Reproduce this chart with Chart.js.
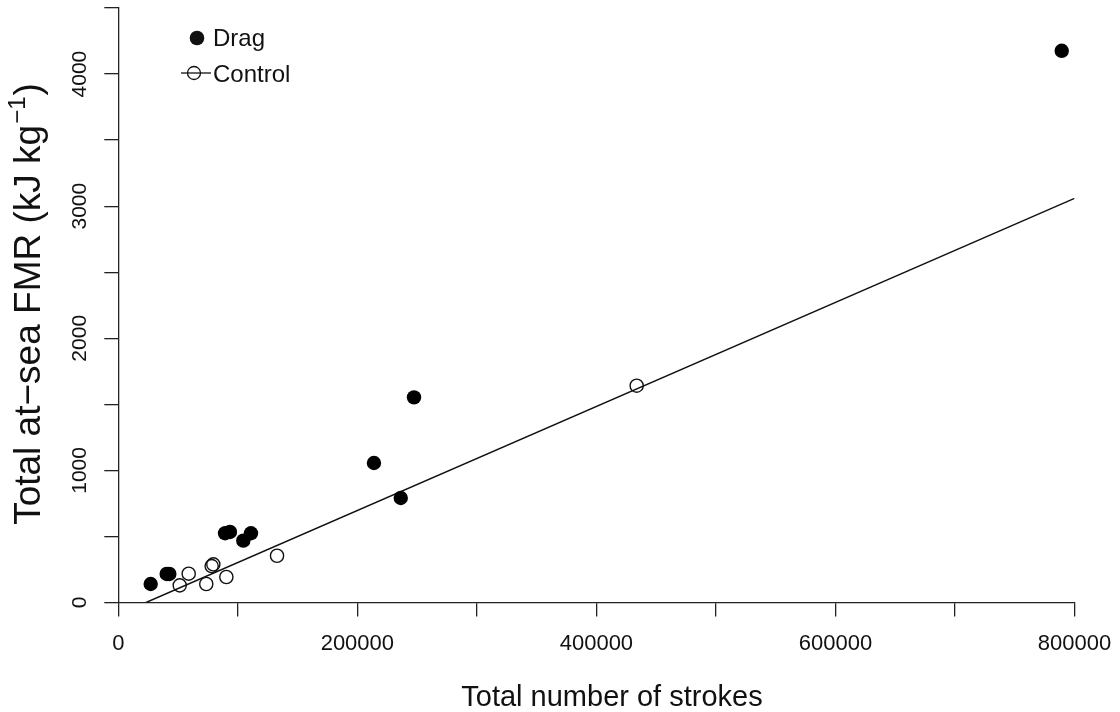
<!DOCTYPE html>
<html>
<head>
<meta charset="utf-8">
<title>At-sea FMR vs total strokes</title>
<script src="https://cdn.jsdelivr.net/npm/chart.js@4.4.1/dist/chart.umd.min.js"></script>
<style>
  html, body { margin: 0; padding: 0; background: #ffffff; }
  canvas { display: block; }
</style>
</head>
<body>
<canvas id="chart" width="1120" height="712"></canvas>
<script>
// Drag-treated birds: total strokes and total at-sea FMR (kJ/kg)
const dragStrokes = [789300, 247400, 213900, 236300, 27100, 40500, 42700, 89300, 93400, 104600, 111000];
const dragFMR     = [4176,   1553,   1056,   791,    140,   216,   216,   524,   534,   468,    524];

// Control birds
const controlStrokes = [51400, 58900, 73600, 78100, 79500, 90400, 132800, 433700];
const controlFMR     = [130,   218,   140,   276,   289,   193,   354,    1641];

// Fitted regression line (end points)
const fitStrokes = [23200, 800000];
const fitFMR     = [0,     3059];

// Axis ticks and their labels
const xTickValues = [0, 100000, 200000, 300000, 400000, 500000, 600000, 700000, 800000];
const xTickLabels = ['0', '', '200000', '', '400000', '', '600000', '', '800000'];
const yTickValues = [0, 500, 1000, 1500, 2000, 2500, 3000, 3500, 4000, 4500];
const yTickLabels = ['0', '', '1000', '', '2000', '', '3000', '', '4000', ''];

const legendNames = ['Drag', 'Control'];
const xTitle = 'Total number of strokes';
const yTitleMain = 'Total at\u2212sea FMR (kJ kg';
const yTitleSup = '\u22121';
const yTitleEnd = ')';

const FONT = '"Liberation Sans", Arial, Helvetica, sans-serif';
const INK = '#111111';
const AXIS = '#222222';

const toPoints = (xs, ys) => xs.map((x, i) => ({ x: x, y: ys[i] }));

// Text that is laid out by hand: rotated y labels, axis titles and legend
const annotations = {
  id: 'annotations',
  afterDraw(chart) {
    const ctx = chart.ctx;
    const ys = chart.scales.y;
    ctx.save();
    ctx.fillStyle = INK;

    // y tick labels, rotated to read bottom-to-top
    ctx.font = '21px ' + FONT;
    ctx.textAlign = 'center';
    ctx.textBaseline = 'alphabetic';
    yTickValues.forEach((v, i) => {
      const label = yTickLabels[i];
      if (!label) return;
      const py = ys.getPixelForValue(v);
      ctx.save();
      ctx.translate(86, py);
      ctx.rotate(-Math.PI / 2);
      ctx.fillText(label, 0, 0);
      ctx.restore();
    });

    // y axis title with superscript exponent
    ctx.save();
    ctx.translate(40, 304);
    ctx.rotate(-Math.PI / 2);
    ctx.textAlign = 'left';
    const bigFont = '37px ' + FONT;
    const supFont = '24px ' + FONT;
    ctx.font = bigFont;
    const w1 = ctx.measureText(yTitleMain).width;
    const w3 = ctx.measureText(yTitleEnd).width;
    ctx.font = supFont;
    const w2 = ctx.measureText(yTitleSup).width;
    let cx = -(w1 + w2 + w3 + 2) / 2;
    ctx.font = bigFont;
    ctx.fillText(yTitleMain, cx, 0);
    cx += w1 + 1;
    ctx.font = supFont;
    ctx.fillText(yTitleSup, cx, -15);
    cx += w2 + 1;
    ctx.font = bigFont;
    ctx.fillText(yTitleEnd, cx, 0);
    ctx.restore();

    // x axis title
    ctx.font = '29px ' + FONT;
    ctx.textAlign = 'center';
    ctx.textBaseline = 'alphabetic';
    ctx.fillText(xTitle, 612, 706);

    // legend
    ctx.font = '24px ' + FONT;
    ctx.textAlign = 'left';
    ctx.beginPath();
    ctx.arc(197, 38, 7.3, 0, Math.PI * 2);
    ctx.fill();
    ctx.fillText(legendNames[0], 213, 46);

    ctx.strokeStyle = INK;
    ctx.lineWidth = 1.3;
    ctx.beginPath();
    ctx.moveTo(181, 73);
    ctx.lineTo(211, 73);
    ctx.stroke();
    ctx.beginPath();
    ctx.arc(194, 73, 6.5, 0, Math.PI * 2);
    ctx.stroke();
    ctx.fillText(legendNames[1], 213, 82);
    ctx.restore();
  }
};

const ctx = document.getElementById('chart').getContext('2d');
new Chart(ctx, {
  type: 'scatter',
  data: {
    datasets: [
      {
        label: 'Fit',
        type: 'line',
        data: toPoints(fitStrokes, fitFMR),
        borderColor: INK,
        borderWidth: 1.5,
        pointRadius: 0,
        fill: false,
        tension: 0,
        order: 3
      },
      {
        label: legendNames[1],
        data: toPoints(controlStrokes, controlFMR),
        pointRadius: 6.6,
        pointBorderWidth: 1.4,
        pointBorderColor: INK,
        pointBackgroundColor: 'rgba(0,0,0,0)',
        clip: false,
        order: 2
      },
      {
        label: legendNames[0],
        data: toPoints(dragStrokes, dragFMR),
        pointRadius: 7.2,
        pointBorderWidth: 0,
        pointBackgroundColor: '#000000',
        clip: false,
        order: 1
      }
    ]
  },
  options: {
    responsive: false,
    animation: false,
    devicePixelRatio: 1,
    layout: { padding: { top: 8, right: 45.5, left: 0, bottom: 0 } },
    plugins: { legend: { display: false }, tooltip: { enabled: false } },
    scales: {
      x: {
        type: 'linear',
        position: 'bottom',
        min: 0,
        max: 800000,
        afterBuildTicks(scale) { scale.ticks = xTickValues.map(v => ({ value: v })); },
        afterFit(scale) {
          scale.height = 712 - 602.5;
          scale.paddingLeft = 0;
          scale.paddingRight = 0;
        },
        ticks: {
          autoSkip: false,
          maxRotation: 0,
          minRotation: 0,
          padding: 14,
          color: INK,
          font: { family: FONT, size: 22 },
          callback(value, index) { return xTickLabels[index]; }
        },
        grid: { drawOnChartArea: false, drawTicks: true, tickLength: 14, color: AXIS, lineWidth: 1.3 },
        border: { display: true, color: AXIS, width: 1.3 }
      },
      y: {
        type: 'linear',
        min: 0,
        max: 4500,
        afterBuildTicks(scale) { scale.ticks = yTickValues.map(v => ({ value: v })); },
        afterFit(scale) {
          scale.width = 118.3;
          scale.paddingTop = 0;
          scale.paddingBottom = 0;
        },
        ticks: { display: false },
        grid: { drawOnChartArea: false, drawTicks: true, tickLength: 14, color: AXIS, lineWidth: 1.3 },
        border: { display: true, color: AXIS, width: 1.3 }
      }
    }
  },
  plugins: [annotations]
});
</script>
</body>
</html>
